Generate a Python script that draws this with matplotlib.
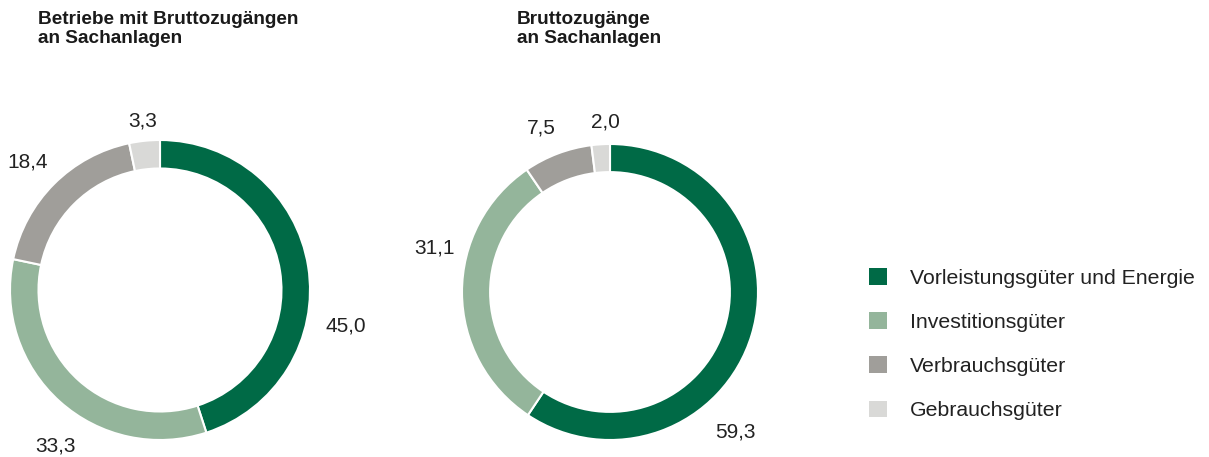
import numpy as np
import matplotlib.pyplot as plt
from matplotlib.patches import Patch

plt.rcParams['font.family'] = ['Liberation Sans', 'DejaVu Sans']

categories = ["Vorleistungsgüter und Energie", "Investitionsgüter",
              "Verbrauchsgüter", "Gebrauchsgüter"]
betriebe = [45.0, 33.3, 18.4, 3.3]
zugaenge = [59.3, 31.1, 7.5, 2.0]
titles = ["Betriebe mit Bruttozugängen\nan Sachanlagen", "Bruttozugänge\nan Sachanlagen"]

COLORS = ["#006a46", "#94b59b", "#a09e9a", "#d9d9d7"]
# value labels: angle shift (deg) from the wedge midpoint and distance from centre
LABEL_SHIFT = [[-20, 8, 1, 0], [-31.5, -14.5, 2, -2]]
LABEL_DIST = [[1.26, 1.25, 1.23, 1.13], [1.27, 1.22, 1.2, 1.15]]


def fmt(v):
    return f"{v:.1f}".replace(".", ",")


def donut(ax, values, shifts, dists):
    ax.pie(values, colors=COLORS, startangle=90, counterclock=False, radius=1.0,
           wedgeprops=dict(width=0.19, edgecolor="white", linewidth=1.5))
    total = sum(values)
    cum = 0.0
    for v, s, d in zip(values, shifts, dists):
        mid = 90 - (cum + v / 2) / total * 360 + s
        cum += v
        a = np.deg2rad(mid)
        ax.text(d * np.cos(a), d * np.sin(a), fmt(v), ha="center", va="center",
                fontsize=15, color="#222222")
    ax.set_xlim(-1, 1)
    ax.set_ylim(-1, 1)
    ax.set_aspect("equal")
    ax.axis("off")


W, H = 1209, 457
fig = plt.figure(figsize=(W / 100, H / 100), dpi=100)

ax1 = fig.add_axes([10 / W, 17 / H, 300 / W, 300 / H])
donut(ax1, betriebe, LABEL_SHIFT[0], LABEL_DIST[0])
ax2 = fig.add_axes([462 / W, 17 / H, 296 / W, 296 / H])
donut(ax2, zugaenge, LABEL_SHIFT[1], LABEL_DIST[1])

fig.text(38 / W, 1 - 11 / H, titles[0], ha="left", va="top", fontsize=13.7,
         fontweight="bold", linespacing=1.15, color="#1a1a1a")
fig.text(517 / W, 1 - 11 / H, titles[1], ha="left", va="top", fontsize=13.7,
         fontweight="bold", linespacing=1.15, color="#1a1a1a")

handles = [Patch(facecolor=c, edgecolor="none") for c in COLORS]
fig.legend(handles, categories, loc="upper left", bbox_to_anchor=(869 / W, 1 - 268 / H),
           frameon=False, fontsize=15.3, handlelength=0.84, handleheight=0.84,
           handletextpad=1.1, labelspacing=1.15, borderpad=0, borderaxespad=0,
           labelcolor="#222222")

fig.savefig("out.png", dpi=100)
